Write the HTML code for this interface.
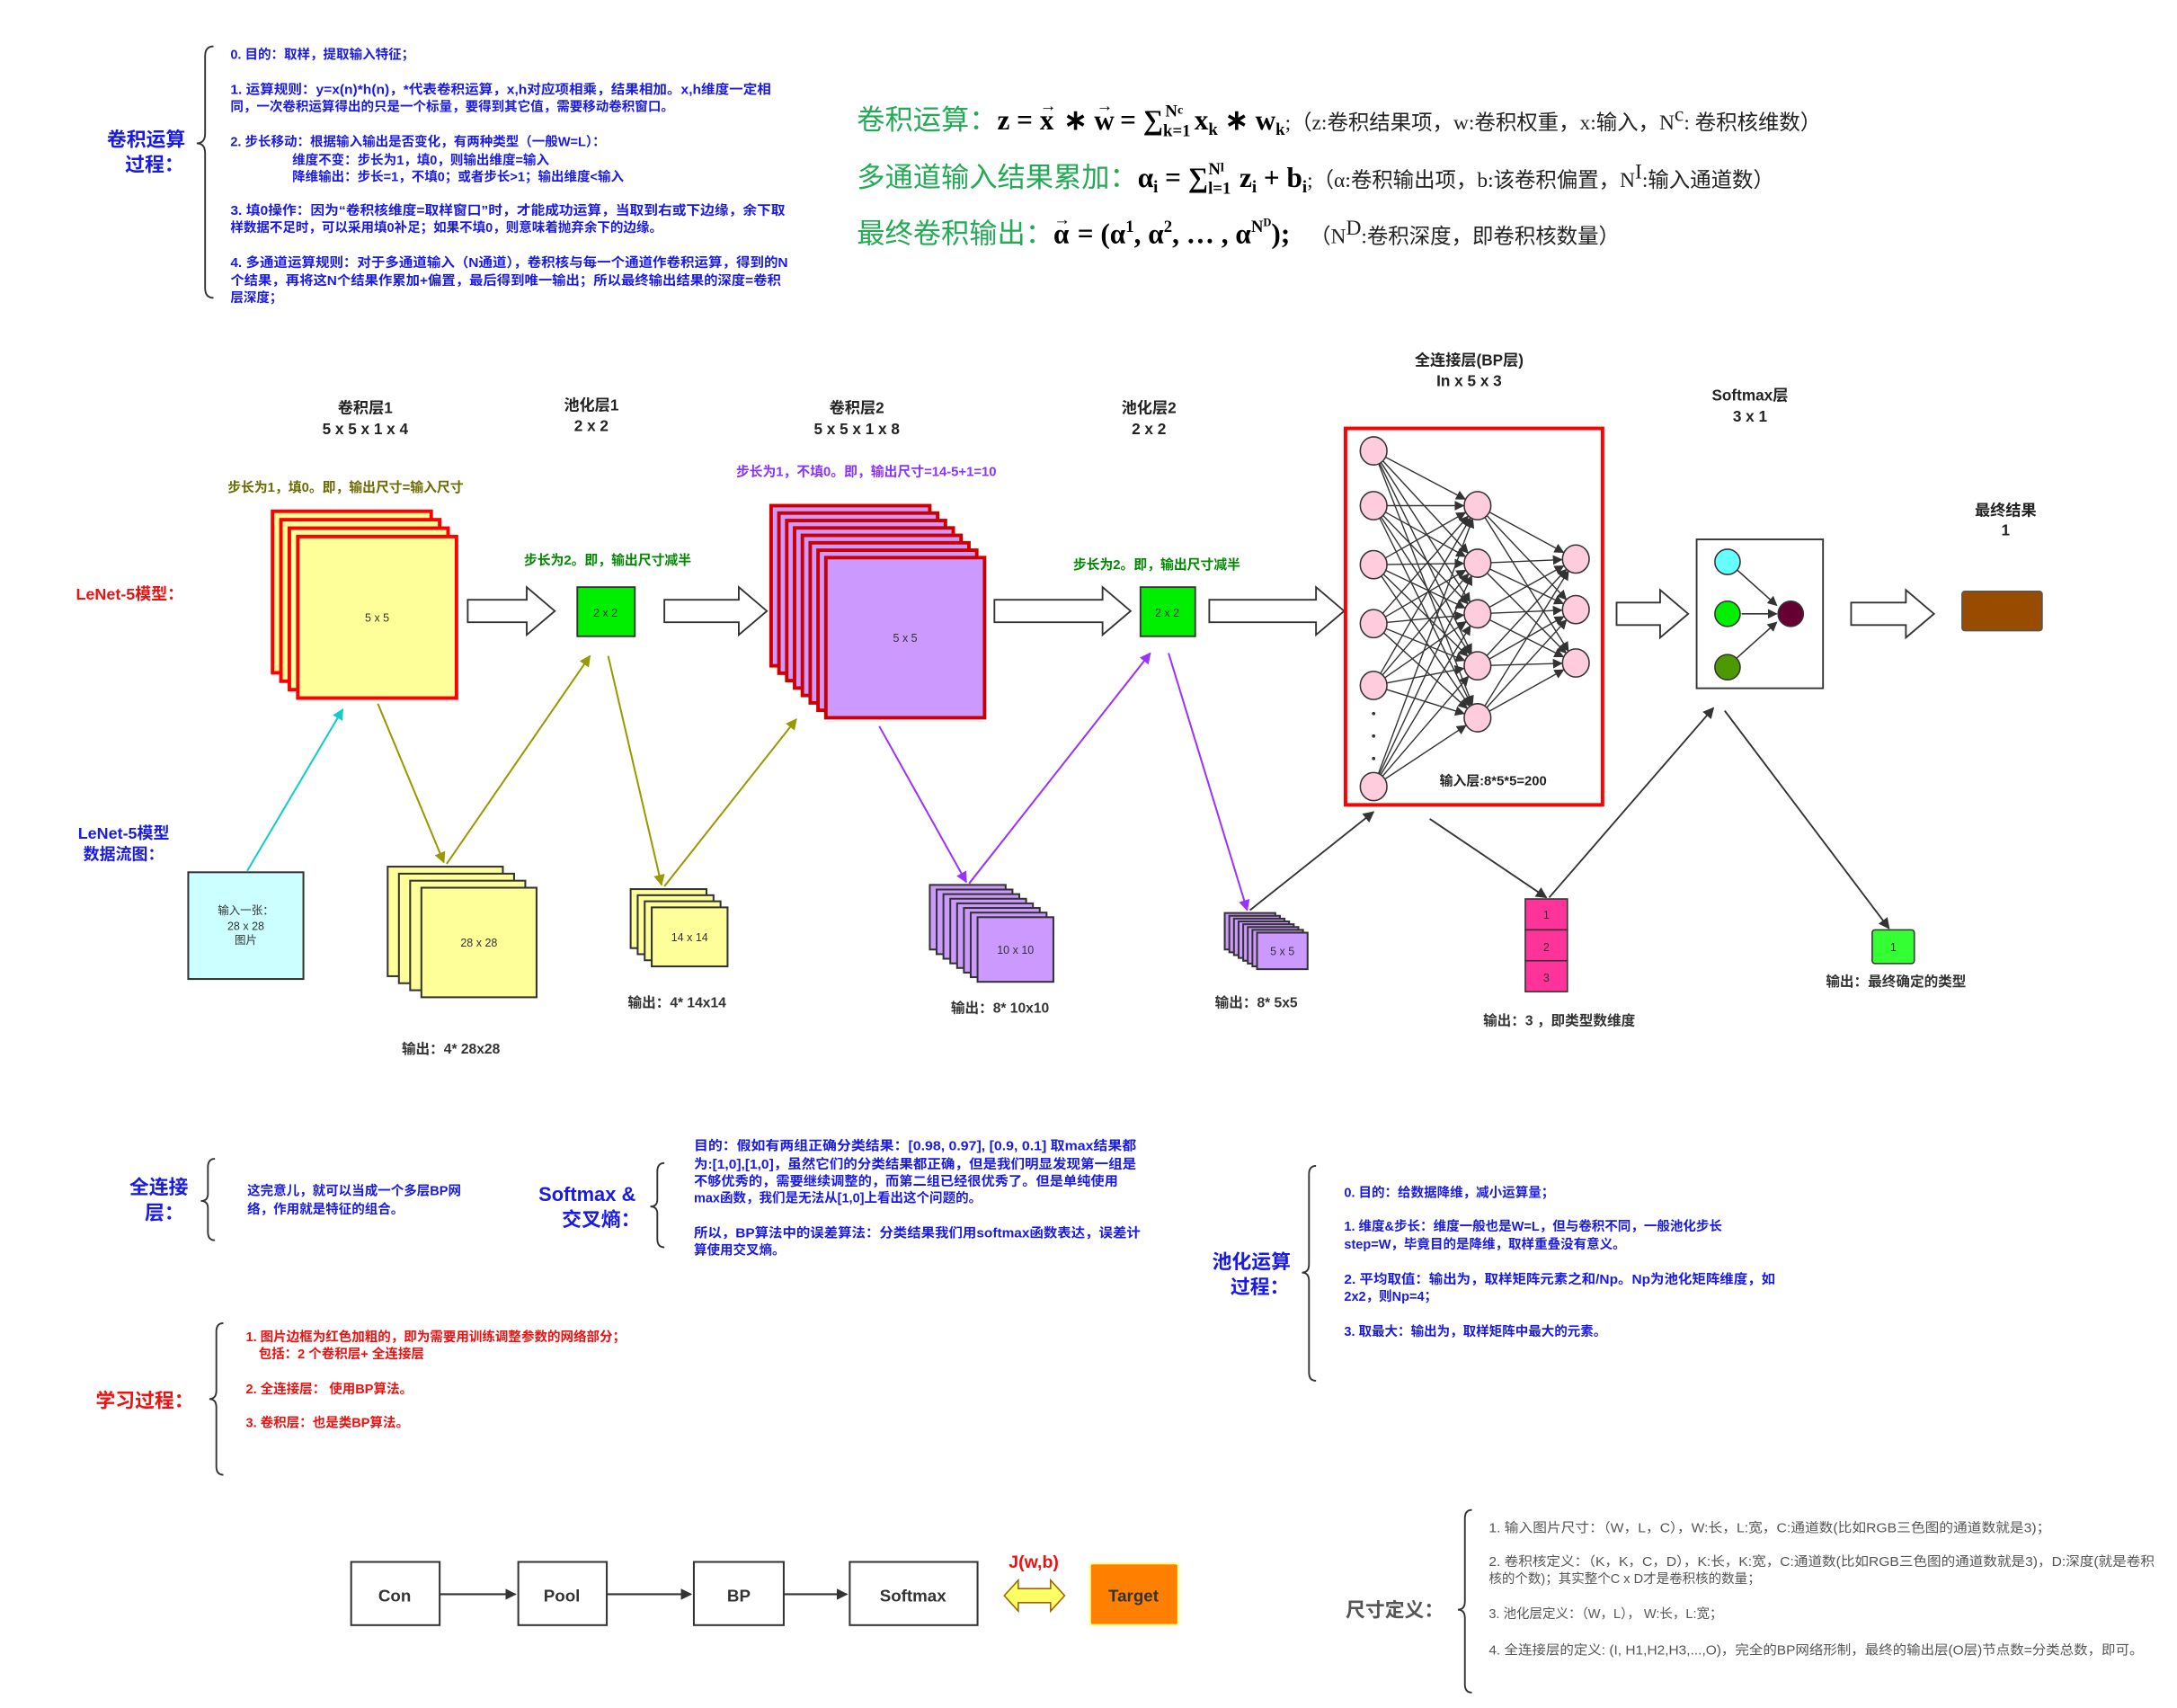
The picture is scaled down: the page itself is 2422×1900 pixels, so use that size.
<!DOCTYPE html>
<html><head><meta charset="utf-8">
<style>
html,body{margin:0;padding:0;background:#fff;}
svg{display:block;}
text{font-family:"Liberation Sans","Noto Sans CJK SC",sans-serif;font-weight:bold;}
.b{fill:#1a1ae6;font-size:9.3px;}
.r{fill:#ee1111;font-size:9.3px;}
.g{fill:#555;font-size:9.3px;font-weight:normal;}
.hb{fill:#1a1ae6;font-size:14px;}
.t{fill:#222;font-size:11px;}
.s{fill:#333;font-size:8px;font-weight:normal;}
.o{fill:#333;font-size:10px;}
.math{font-family:"Liberation Serif","Noto Serif CJK SC",serif;font-weight:bold;fill:#000;}
.gr{fill:#22aa55;font-weight:normal;font-size:20px;}
.par{font-family:"Liberation Serif","Noto Sans CJK SC",serif;font-weight:normal;fill:#222;font-size:15px;}
</style></head>
<body>
<svg id="s" width="2422" height="1900" viewBox="0 0 1550 1216" xmlns="http://www.w3.org/2000/svg">
<defs>
<marker id="ah" viewBox="0 0 10 10" refX="9" refY="5" markerWidth="7" markerHeight="7" orient="auto" markerUnits="userSpaceOnUse"><path d="M0,0 L10,5 L0,10 z" fill="#333"/></marker>
<marker id="ao" viewBox="0 0 10 10" refX="9" refY="5" markerWidth="8" markerHeight="8" orient="auto" markerUnits="userSpaceOnUse"><path d="M0,0 L10,5 L0,10 z" fill="#999900"/></marker>
<marker id="ap" viewBox="0 0 10 10" refX="9" refY="5" markerWidth="8" markerHeight="8" orient="auto" markerUnits="userSpaceOnUse"><path d="M0,0 L10,5 L0,10 z" fill="#9933ff"/></marker>
<marker id="ac" viewBox="0 0 10 10" refX="9" refY="5" markerWidth="8" markerHeight="8" orient="auto" markerUnits="userSpaceOnUse"><path d="M0,0 L10,5 L0,10 z" fill="#11cccc"/></marker>
<marker id="ad" viewBox="0 0 10 10" refX="9" refY="5" markerWidth="8" markerHeight="8" orient="auto" markerUnits="userSpaceOnUse"><path d="M0,0 L10,5 L0,10 z" fill="#333"/></marker>
</defs>

<!-- top-left brace section -->
<path d="M152,33 Q146,33 146,40 L146,95 Q146,102 140,102 Q146,102 146,109 L146,205 Q146,212 152,212" fill="none" stroke="#333" stroke-width="1.2"/>
<text class="hb" x="104" y="104" text-anchor="middle">卷积运算</text>
<text class="hb" x="110" y="122" text-anchor="middle">过程：</text>
<text class="b" x="164" y="42">0. 目的：取样，提取输入特征；</text>
<text class="b" x="164" y="67" textLength="385" lengthAdjust="spacingAndGlyphs">1. 运算规则：y=x(n)*h(n)，*代表卷积运算，x,h对应项相乘，结果相加。x,h维度一定相</text>
<text class="b" x="164" y="79">同，一次卷积运算得出的只是一个标量，要得到其它值，需要移动卷积窗口。</text>
<text class="b" x="164" y="104">2. 步长移动：根据输入输出是否变化，有两种类型（一般W=L）：</text>
<text class="b" x="208" y="117">维度不变：步长为1，填0，则输出维度=输入</text>
<text class="b" x="208" y="129">降维输出：步长=1，不填0；或者步长&gt;1；输出维度&lt;输入</text>
<text class="b" x="164" y="153" textLength="395" lengthAdjust="spacingAndGlyphs">3. 填0操作：因为“卷积核维度=取样窗口”时，才能成功运算，当取到右或下边缘，余下取</text>
<text class="b" x="164" y="165">样数据不足时，可以采用填0补足；如果不填0，则意味着抛弃余下的边缘。</text>
<text class="b" x="164" y="190" textLength="397" lengthAdjust="spacingAndGlyphs">4. 多通道运算规则：对于多通道输入（N通道），卷积核与每一个通道作卷积运算，得到的N</text>
<text class="b" x="164" y="203" textLength="392" lengthAdjust="spacingAndGlyphs">个结果，再将这N个结果作累加+偏置，最后得到唯一输出；所以最终输出结果的深度=卷积</text>
<text class="b" x="164" y="215">层深度；</text>

<!-- formulas -->
<text x="610" y="92"><tspan class="gr">卷积运算：</tspan><tspan class="math" font-size="20">z = x</tspan><tspan class="math" font-size="12" dx="-10" dy="-13">→</tspan><tspan class="math" font-size="20" dy="13"> ∗ w</tspan><tspan class="math" font-size="12" dx="-13" dy="-13">→</tspan><tspan class="math" font-size="20" dy="13"> = ∑</tspan><tspan class="math" font-size="12" dy="5">k=1</tspan><tspan class="math" font-size="12" dx="-18" dy="-14">N</tspan><tspan class="math" font-size="9" dy="-2">c</tspan><tspan class="math" font-size="20" dx="3" dy="11"> x</tspan><tspan class="math" font-size="12" dy="4">k</tspan><tspan class="math" font-size="20" dy="-4"> ∗ w</tspan><tspan class="math" font-size="12" dy="4">k</tspan><tspan class="par" dy="-4">;（z:卷积结果项，w:卷积权重，x:输入，N</tspan><tspan class="par" font-size="9" dy="-6">c</tspan><tspan class="par" dy="6">: 卷积核维数）</tspan></text>
<text x="610" y="133"><tspan class="gr">多通道输入结果累加：</tspan><tspan class="math" font-size="20">α</tspan><tspan class="math" font-size="12" dy="4">i</tspan><tspan class="math" font-size="20" dy="-4"> = ∑</tspan><tspan class="math" font-size="12" dy="5">l=1</tspan><tspan class="math" font-size="12" dx="-16" dy="-14">N</tspan><tspan class="math" font-size="9" dy="-2">l</tspan><tspan class="math" font-size="20" dx="6" dy="11"> z</tspan><tspan class="math" font-size="12" dy="4">i</tspan><tspan class="math" font-size="20" dy="-4"> + b</tspan><tspan class="math" font-size="12" dy="4">i</tspan><tspan class="par" dy="-4">;（α:卷积输出项，b:该卷积偏置，N</tspan><tspan class="par" font-size="9" dy="-6">I</tspan><tspan class="par" dy="6">:输入通道数）</tspan></text>
<text x="610" y="173"><tspan class="gr">最终卷积输出：</tspan><tspan class="math" font-size="20">α</tspan><tspan class="math" font-size="12" dx="-11" dy="-13">→</tspan><tspan class="math" font-size="20" dy="13"> = (α</tspan><tspan class="math" font-size="12" dy="-8">1</tspan><tspan class="math" font-size="20" dy="8">, α</tspan><tspan class="math" font-size="12" dy="-8">2</tspan><tspan class="math" font-size="20" dy="8">, … , α</tspan><tspan class="math" font-size="12" dy="-8">N</tspan><tspan class="math" font-size="8" dy="-4">D</tspan><tspan class="math" font-size="20" dy="12">);</tspan><tspan class="par" dx="14">（N</tspan><tspan class="par" font-size="9" dy="-6">D</tspan><tspan class="par" dy="6">:卷积深度，即卷积核数量）</tspan></text>

<!-- layer titles -->
<g class="t" text-anchor="middle">
<text x="260" y="294">卷积层1</text><text x="260" y="309">5 x 5 x 1 x 4</text>
<text x="421" y="292">池化层1</text><text x="421" y="307">2 x 2</text>
<text x="610" y="294">卷积层2</text><text x="610" y="309">5 x 5 x 1 x 8</text>
<text x="818" y="294">池化层2</text><text x="818" y="309">2 x 2</text>
<text x="1046" y="260">全连接层(BP层)</text><text x="1046" y="275">In x 5 x 3</text>
<text x="1246" y="285">Softmax层</text><text x="1246" y="300">3 x 1</text>
<text x="1428" y="367">最终结果</text><text x="1428" y="381">1</text>
</g>
<text x="162" y="350" style="fill:#6b6b00;font-size:9.5px">步长为1，填0。即，输出尺寸=输入尺寸</text>
<text x="524" y="339" style="fill:#8833ff;font-size:9.5px">步长为1，不填0。即，输出尺寸=14-5+1=10</text>
<text x="373" y="402" style="fill:#008800;font-size:9.5px">步长为2。即，输出尺寸减半</text>
<text x="764" y="405" style="fill:#008800;font-size:9.5px">步长为2。即，输出尺寸减半</text>
<text x="54" y="427" style="fill:#ee1111;font-size:11.5px">LeNet-5模型：</text>
<text x="88" y="597" text-anchor="middle" style="fill:#1a1ae6;font-size:11.5px">LeNet-5模型</text>
<text x="88" y="612" text-anchor="middle" style="fill:#1a1ae6;font-size:11.5px">数据流图：</text>

<g id="stacks"></g>

<rect x="411" y="418" width="41" height="35" fill="#00ee00" stroke="#333" stroke-width="1.2"/>
<text class="s" x="431" y="439" text-anchor="middle">2 x 2</text>
<rect x="812" y="418" width="39" height="35" fill="#00ee00" stroke="#333" stroke-width="1.2"/>
<text class="s" x="831" y="439" text-anchor="middle">2 x 2</text>

<g id="arrows" fill="#fff" stroke="#333" stroke-width="1.2"></g>

<!-- FC -->
<rect x="958" y="305" width="183" height="268" fill="#fff" stroke="#ff0000" stroke-width="2.5"/>
<g id="nn"></g>
<text x="1025" y="559" style="font-size:9.5px;fill:#222">输入层:8*5*5=200</text>
<circle cx="978" cy="508" r="1.2" fill="#333"/><circle cx="978" cy="524" r="1.2" fill="#333"/><circle cx="978" cy="540" r="1.2" fill="#333"/>

<!-- softmax -->
<rect x="1208" y="384" width="90" height="106" fill="#fff" stroke="#333" stroke-width="1.2"/>
<line x1="1236" y1="405" x2="1265" y2="431" stroke="#333" marker-end="url(#ah)"/>
<line x1="1240" y1="437" x2="1265" y2="437" stroke="#333" marker-end="url(#ah)"/>
<line x1="1236" y1="469" x2="1265" y2="443" stroke="#333" marker-end="url(#ah)"/>
<circle cx="1230" cy="400" r="9" fill="#66ffff" stroke="#333"/>
<circle cx="1230" cy="437" r="9" fill="#00ee00" stroke="#333"/>
<circle cx="1230" cy="475" r="9" fill="#4d9900" stroke="#333"/>
<circle cx="1275" cy="437" r="9" fill="#660033" stroke="#333"/>
<rect x="1397" y="421" width="57" height="28" rx="2" fill="#994c00" stroke="#555"/>

<!-- lower -->
<rect x="134" y="621" width="82" height="76" fill="#ccffff" stroke="#333" stroke-width="1.3"/>
<text class="s" x="175" y="651" text-anchor="middle">输入一张：</text>
<text class="s" x="175" y="662" text-anchor="middle">28 x 28</text>
<text class="s" x="175" y="672" text-anchor="middle">图片</text>

<line x1="176" y1="620" x2="244" y2="505" stroke="#11cccc" stroke-width="1.3" marker-end="url(#ac)"/>
<line x1="269" y1="501" x2="316" y2="614" stroke="#999900" stroke-width="1.3" marker-end="url(#ao)"/>
<line x1="318" y1="615" x2="420" y2="467" stroke="#999900" stroke-width="1.3" marker-end="url(#ao)"/>
<line x1="433" y1="467" x2="471" y2="630" stroke="#999900" stroke-width="1.3" marker-end="url(#ao)"/>
<line x1="473" y1="631" x2="567" y2="512" stroke="#999900" stroke-width="1.3" marker-end="url(#ao)"/>
<line x1="626" y1="517" x2="688" y2="628" stroke="#9933ff" stroke-width="1.3" marker-end="url(#ap)"/>
<line x1="690" y1="629" x2="819" y2="465" stroke="#9933ff" stroke-width="1.3" marker-end="url(#ap)"/>
<line x1="832" y1="465" x2="888" y2="648" stroke="#9933ff" stroke-width="1.3" marker-end="url(#ap)"/>
<line x1="890" y1="648" x2="978" y2="578" stroke="#333" stroke-width="1.2" marker-end="url(#ad)"/>
<line x1="1018" y1="583" x2="1101" y2="639" stroke="#333" stroke-width="1.2" marker-end="url(#ad)"/>
<line x1="1103" y1="639" x2="1220" y2="504" stroke="#333" stroke-width="1.2" marker-end="url(#ad)"/>
<line x1="1228" y1="506" x2="1345" y2="661" stroke="#333" stroke-width="1.2" marker-end="url(#ad)"/>

<text class="o" x="286" y="750">输出：4* 28x28</text>
<text class="o" x="447" y="717">输出：4* 14x14</text>
<text class="o" x="677" y="721">输出：8* 10x10</text>
<text class="o" x="865" y="717">输出：8* 5x5</text>
<text class="o" x="1056" y="730">输出：3 ，即类型数维度</text>
<text class="o" x="1300" y="702">输出：最终确定的类型</text>

<rect x="1086" y="640" width="30" height="22" fill="#ff3399" stroke="#333"/>
<rect x="1086" y="662" width="30" height="22" fill="#ff3399" stroke="#333"/>
<rect x="1086" y="684" width="30" height="22" fill="#ff3399" stroke="#333"/>
<text class="s" x="1101" y="654" text-anchor="middle">1</text>
<text class="s" x="1101" y="677" text-anchor="middle">2</text>
<text class="s" x="1101" y="699" text-anchor="middle">3</text>
<rect x="1333" y="662" width="30" height="24" rx="2" fill="#33ff33" stroke="#333"/>
<text class="s" x="1348" y="677" text-anchor="middle">1</text>

<!-- bottom sections -->
<text class="hb" x="113" y="850" text-anchor="middle">全连接</text>
<text class="hb" x="117" y="868" text-anchor="middle">层：</text>
<path d="M153,825 Q148,825 148,831 L148,850 Q148,855 143,855 Q148,855 148,860 L148,877 Q148,883 153,883" fill="none" stroke="#333" stroke-width="1.2"/>
<text class="b" x="176" y="851">这完意儿，就可以当成一个多层BP网</text>
<text class="b" x="176" y="864">络，作用就是特征的组合。</text>

<text class="hb" x="418" y="855" text-anchor="middle">Softmax &amp;</text>
<text class="hb" x="428" y="873" text-anchor="middle">交叉熵：</text>
<path d="M473,828 Q468,828 468,834 L468,854 Q468,859 463,859 Q468,859 468,864 L468,882 Q468,888 473,888" fill="none" stroke="#333" stroke-width="1.2"/>
<text class="b" x="494" y="819" textLength="315" lengthAdjust="spacingAndGlyphs">目的：假如有两组正确分类结果：[0.98, 0.97], [0.9, 0.1] 取max结果都</text>
<text class="b" x="494" y="832" textLength="315" lengthAdjust="spacingAndGlyphs">为:[1,0],[1,0]，虽然它们的分类结果都正确，但是我们明显发现第一组是</text>
<text class="b" x="494" y="844" textLength="302" lengthAdjust="spacingAndGlyphs">不够优秀的，需要继续调整的，而第二组已经很优秀了。但是单纯使用</text>
<text class="b" x="494" y="856">max函数，我们是无法从[1,0]上看出这个问题的。</text>
<text class="b" x="494" y="881" textLength="318" lengthAdjust="spacingAndGlyphs">所以，BP算法中的误差算法：分类结果我们用softmax函数表达，误差计</text>
<text class="b" x="494" y="893">算使用交叉熵。</text>

<text x="103" y="1002" text-anchor="middle" style="fill:#ee1111;font-size:14px">学习过程：</text>
<path d="M159,942 Q154,942 154,948 L154,990 Q154,996 149,996 Q154,996 154,1002 L154,1044 Q154,1050 159,1050" fill="none" stroke="#333" stroke-width="1.2"/>
<text class="r" x="175" y="955">1. 图片边框为红色加粗的，即为需要用训练调整参数的网络部分；</text>
<text class="r" x="184" y="967">包括：2 个卷积层+ 全连接层</text>
<text class="r" x="175" y="992">2. 全连接层： 使用BP算法。</text>
<text class="r" x="175" y="1016">3. 卷积层：也是类BP算法。</text>

<text class="hb" x="891" y="903" text-anchor="middle">池化运算</text>
<text class="hb" x="897" y="921" text-anchor="middle">过程：</text>
<path d="M937,830 Q932,830 932,836 L932,900 Q932,906 927,906 Q932,906 932,912 L932,977 Q932,983 937,983" fill="none" stroke="#333" stroke-width="1.2"/>
<text class="b" x="957" y="852">0. 目的：给数据降维，减小运算量；</text>
<text class="b" x="957" y="876">1. 维度&amp;步长：维度一般也是W=L，但与卷积不同，一般池化步长</text>
<text class="b" x="957" y="889">step=W，毕竟目的是降维，取样重叠没有意义。</text>
<text class="b" x="957" y="914" textLength="307" lengthAdjust="spacingAndGlyphs">2. 平均取值：输出为，取样矩阵元素之和/Np。Np为池化矩阵维度，如</text>
<text class="b" x="957" y="926">2x2，则Np=4；</text>
<text class="b" x="957" y="951">3. 取最大：输出为，取样矩阵中最大的元素。</text>

<text x="993" y="1151" text-anchor="middle" style="fill:#555;font-size:14px">尺寸定义：</text>
<path d="M1048,1075 Q1043,1075 1043,1081 L1043,1140 Q1043,1146 1038,1146 Q1043,1146 1043,1152 L1043,1199 Q1043,1205 1048,1205" fill="none" stroke="#333" stroke-width="1.2"/>
<text class="g" x="1060" y="1091" textLength="400" lengthAdjust="spacingAndGlyphs">1. 输入图片尺寸：（W，L，C），W:长，L:宽，C:通道数(比如RGB三色图的通道数就是3)；</text>
<text class="g" x="1060" y="1115" textLength="474" lengthAdjust="spacingAndGlyphs">2. 卷积核定义：（K，K，C，D），K:长，K:宽，C:通道数(比如RGB三色图的通道数就是3)，D:深度(就是卷积</text>
<text class="g" x="1060" y="1127">核的个数)；其实整个C x D才是卷积核的数量；</text>
<text class="g" x="1060" y="1152">3. 池化层定义：（W，L）， W:长，L:宽；</text>
<text class="g" x="1060" y="1178" textLength="466" lengthAdjust="spacingAndGlyphs">4. 全连接层的定义: (I, H1,H2,H3,...,O)，完全的BP网络形制，最终的输出层(O层)节点数=分类总数，即可。</text>

<!-- flow -->
<g fill="#fff" stroke="#333" stroke-width="1.3">
<rect x="250" y="1112" width="63" height="45"/>
<rect x="369" y="1112" width="63" height="45"/>
<rect x="494" y="1112" width="64" height="45"/>
<rect x="605" y="1112" width="91" height="45"/>
</g>
<line x1="313" y1="1135" x2="367" y2="1135" stroke="#333" stroke-width="1.3" marker-end="url(#ad)"/>
<line x1="432" y1="1135" x2="492" y2="1135" stroke="#333" stroke-width="1.3" marker-end="url(#ad)"/>
<line x1="558" y1="1135" x2="603" y2="1135" stroke="#333" stroke-width="1.3" marker-end="url(#ad)"/>
<g style="fill:#333;font-size:12px" text-anchor="middle">
<text x="281" y="1140">Con</text><text x="400" y="1140">Pool</text><text x="526" y="1140">BP</text><text x="650" y="1140">Softmax</text>
</g>
<rect x="776" y="1113" width="63" height="44" rx="2" fill="#ff8000" stroke="#ffff99" stroke-width="1.5"/>
<text x="807" y="1140" text-anchor="middle" style="fill:#333;font-size:12px">Target</text>
<text x="736" y="1116" text-anchor="middle" style="fill:#ee1111;font-size:12.5px">J(w,b)</text>
<path d="M715,1136 L725,1125 L725,1131 L748,1131 L748,1125 L758,1136 L748,1147 L748,1141 L725,1141 L725,1147 z" fill="#ffff66" stroke="#996600" stroke-width="1"/>
</svg>
<script>
var NS="http://www.w3.org/2000/svg",svg=document.getElementById('s');
function el(p,t,a){var e=document.createElementNS(NS,t);for(var k in a)e.setAttribute(k,a[k]);p.appendChild(e);return e;}
var st=document.getElementById('stacks');
function stack(n,x0,y0,x1,y1,w,h,fill,stroke,sw,label,fs){
 for(var i=0;i<n;i++){var f=n==1?0:i/(n-1);
  el(st,'rect',{x:x0+(x1-x0)*f,y:y0+(y1-y0)*f,width:w,height:h,fill:fill,stroke:stroke,'stroke-width':sw});}
 var t=el(st,'text',{x:x1+w/2,y:y1+h/2+3,'text-anchor':'middle','class':'s'});t.textContent=label;if(fs)t.setAttribute('font-size',fs);
}
stack(4,194,364,212,382,113,115,'#ffff99','#ff0000',2.5,'5 x 5');
stack(8,549,360,588,397,113,114,'#cc99ff','#cc0000',2.5,'5 x 5');
stack(4,276,617,300,632,82,78,'#ffff99','#333',1.3,'28 x 28');
stack(4,449,633,464,646,54,42,'#ffff99','#333',1.3,'14 x 14');
stack(8,662,630,696,653,54,46,'#cc99ff','#333',1.3,'10 x 10');
stack(8,872,650,895,664,36,26,'#cc99ff','#333',1.3,'5 x 5');
var ar=document.getElementById('arrows');
function barrow(x1,x2,cy){var hl=20,sh=8,hh=17;
 el(ar,'path',{d:'M'+x1+','+(cy-sh)+' L'+(x2-hl)+','+(cy-sh)+' L'+(x2-hl)+','+(cy-hh)+' L'+x2+','+cy+' L'+(x2-hl)+','+(cy+hh)+' L'+(x2-hl)+','+(cy+sh)+' L'+x1+','+(cy+sh)+' z'});}
barrow(333,395,435);barrow(473,546,435);barrow(708,805,435);barrow(861,957,435);barrow(1151,1202,437);barrow(1318,1377,437);
var nn=document.getElementById('nn');
var c1=[321,360,402,444,488,560],c2=[360,401,437,474,511],c3=[398,434,472];
function links(xa,A,xb,B){A.forEach(function(a){B.forEach(function(b){
 var dx=xb-xa,dy=b-a,L=Math.sqrt(dx*dx+dy*dy);
 el(nn,'line',{x1:xa+9*dx/L,y1:a+9*dy/L,x2:xb-10*dx/L,y2:b-10*dy/L,stroke:'#333','stroke-width':0.9,'marker-end':'url(#ah)'});});});}
links(978,c1,1052,c2);links(1052,c2,1122,c3);
function nodes(x,A){A.forEach(function(y){el(nn,'ellipse',{cx:x,cy:y,rx:9.5,ry:10,fill:'#ffccdd',stroke:'#333','stroke-width':1});});}
nodes(978,c1);nodes(1052,c2);nodes(1122,c3);
</script>
</body></html>
